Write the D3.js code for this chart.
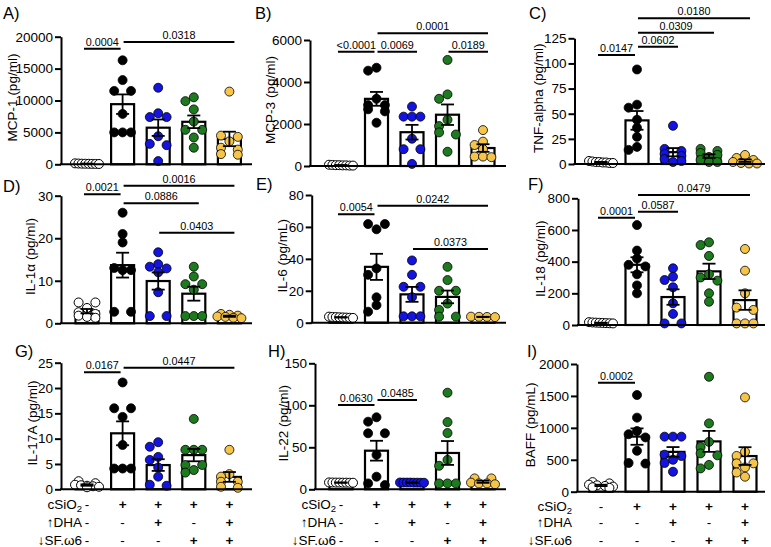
<!DOCTYPE html>
<html><head><meta charset="utf-8">
<script src="https://cdn.jsdelivr.net/npm/d3@7"></script>
<style>
body{margin:0;background:#fff}
svg{display:block}
text{font-family:"Liberation Sans",Arial,sans-serif;fill:#000}
</style>
</head><body>
<svg id="c" width="771" height="547"></svg>
<script>
// ---------- DATA ----------
const groupColors = ["#ffffff", "#000000", "#1414e0", "#1e7a1e", "#f5c449"];
const panelIds = ["A)", "B)", "C)", "D)", "E)", "F)", "G)", "H)", "I)"];
const yLabels = ["MCP-1 (pg/ml)", "MCP-3 (pg/ml)", "TNF-alpha (pg/ml)", "IL-1α (pg/ml)", "IL-6 (pg/mL)",
                 "IL-18 (pg/ml)", "IL-17A (pg/ml)", "IL-22 (pg/ml)", "BAFF (pg/mL)"];

const mcp1 = [
  [150, 120, 100, 90, 80, 70, 60, 50],
  [16300, 13200, 11500, 11500, 7900, 5000, 5000, 5000],
  [12000, 8000, 7400, 7400, 4400, 3200, 3000, 500],
  [10500, 9900, 8600, 6700, 5400, 5400, 4200, 2600],
  [11400, 4500, 4300, 3600, 2600, 2300, 1600, 1500]
];
const mcp3 = [
  [60, 50, 40, 40, 30, 30, 20, 20],
  [4680, 4540, 3200, 2900, 2900, 2700, 2600, 2060],
  [2830, 2350, 2350, 2350, 1300, 800, 800, 100],
  [5050, 3410, 3200, 2200, 1900, 1600, 1500, 680],
  [1710, 1160, 1000, 800, 450, 450, 420]
];
const tnfa = [
  [3, 2.5, 2, 2, 1.5, 1.5, 1, 1],
  [94, 59, 56, 44, 36, 27, 17, 14],
  [38, 15, 13, 10, 8, 5, 3, 2],
  [15, 13, 11, 9, 7, 4, 2, 2],
  [9, 6, 4, 2, 1, 0.5, 0.5]
];
const il1a = [
  [4.9, 4.9, 3.6, 2.6, 2.2, 1.8, 1.5, 1.3],
  [26, 21, 19, 13, 12.5, 12.5, 2.7, 2.7],
  [16.7, 13.9, 13.3, 12.9, 12, 7.3, 1.7, 1.7],
  [13.3, 11, 9.2, 9.2, 7.9, 1.7, 1.7, 1.7],
  [2.2, 2.0, 1.8, 1.6, 1.5, 1.3, 1.2]
];
const il6 = [
  [3.8, 3.6, 3.5, 3.4, 3.3, 3.2, 3.1, 3.0],
  [61.8, 61.8, 58.5, 34, 30, 15.9, 11, 6.9],
  [39, 30, 22.5, 22.5, 16, 4, 4, 4],
  [35, 26.7, 20, 20, 12, 8, 3.8, 3.8],
  [3.8, 3.7, 3.6, 3.5]
];
const il18 = [
  [18, 16, 15, 14, 13, 12, 11, 10],
  [631, 470, 420, 380, 370, 320, 250, 200],
  [358, 305, 284, 238, 137, 70, 10, 10],
  [522, 505, 436, 320, 300, 280, 200, 147],
  [480, 343, 200, 110, 95, 10, 10, 10]
];
const il17a = [
  [1.6, 1.2, 0.9, 0.8, 0.7, 0.6, 0.5, 0.4],
  [21.1, 16, 16, 14.3, 8.75, 4.1, 4.1, 4.1],
  [9.3, 8.4, 6.4, 5.8, 4.3, 2.5, 0.9, 0.7],
  [13.9, 7.8, 7.8, 7.8, 4.8, 4.8, 3.8, 3.3],
  [7.8, 3, 2.5, 1.5, 1.5, 0.5, 0.3]
];
const il22 = [
  [8.2, 8.1, 8, 8, 7.9, 7.9, 7.8, 7.8],
  [85.7, 80.5, 66.7, 66.7, 41, 15, 7, 5],
  [8.1, 8, 8, 8, 7.9, 7.9, 7.8, 7.8],
  [115, 80, 67, 35, 28, 7, 7, 7],
  [13, 13, 8, 7, 7, 6]
];
const baff = [
  [150, 130, 110, 100, 90, 80, 70, 60],
  [1514, 1160, 950, 900, 850, 640, 450, 440],
  [862, 862, 862, 580, 560, 500, 450, 313],
  [1800, 1070, 780, 700, 600, 570, 420, 365],
  [1477, 626, 560, 444, 444, 380, 300, 235]
];
const panelData = [mcp1, mcp3, tnfa, il1a, il6, il18, il17a, il22, baff];

const ticksA = [0, 5000, 10000, 15000, 20000];
const ticksB = [0, 2000, 4000, 6000];
const ticksC = [0, 25, 50, 75, 100, 125];
const ticksD = [0, 10, 20, 30];
const ticksE = [0, 20, 40, 60, 80];
const ticksF = [0, 200, 400, 600, 800];
const ticksG = [0, 5, 10, 15, 20, 25];
const ticksH = [0, 50, 100, 150];
const ticksI = [0, 500, 1000, 1500, 2000];
const panelTicks = [ticksA, ticksB, ticksC, ticksD, ticksE, ticksF, ticksG, ticksH, ticksI];

// significance brackets: [fromGroup, toGroup, level (data units), label]
const bracketsA = [[0, 1, 18100, "0.0004"], [1, 4, 19170, "0.0318"]];
const bracketsB = [[0, 1, 5443, "<0.0001"], [1, 2, 5443, "0.0069"], [3, 4, 5443, "0.0189"], [1, 4, 6319, "0.0001"]];
const bracketsC = [[0, 1, 108.4, "0.0147"], [1, 2, 116.6, "0.0602"], [1, 3, 130.6, "0.0309"], [1, 4, 144.9, "0.0180"]];
const bracketsD = [[0, 1, 30.33, "0.0021"], [1, 4, 32.35, "0.0016"], [1, 3, 28.2, "0.0886"], [2, 4, 21.3, "0.0403"]];
const bracketsE = [[0, 1, 67.9, "0.0054"], [1, 4, 73.3, "0.0242"], [2, 4, 46.2, "0.0373"]];
const bracketsF = [[0, 1, 677, "0.0001"], [1, 2, 715, "0.0587"], [1, 4, 821, "0.0479"]];
const bracketsG = [[0, 1, 23.1, "0.0167"], [1, 4, 24.0, "0.0447"]];
const bracketsH = [[0, 1, 100.4, "0.0630"], [1, 2, 106.3, "0.0485"]];
const bracketsI = [[0, 1, 1707, "0.0002"]];
const panelBrackets = [bracketsA, bracketsB, bracketsC, bracketsD, bracketsE, bracketsF, bracketsG, bracketsH, bracketsI];

const treatmentNames = ["cSiO", "↑DHA", "↓SF.ω6"];
const treatmentSigns = [
  ["-", "+", "+", "+", "+"],
  ["-", "-", "+", "-", "+"],
  ["-", "-", "-", "+", "+"]
];

// ---------- LAYOUT ----------
const axisXs = [61, 310, 574.5, 61, 311.7, 578, 61, 315, 577];
const zeroYs = [164.3, 166, 164, 323.3, 322.7, 325, 489.3, 489.3, 491.7];
const topYs = [36.7, 40, 38.3, 195.7, 195, 198.3, 362.7, 363.3, 364];
const firstCenters = [87, 341, 601];
const steps = [35.6, 35.5, 36];
const xEnds = [252, 506, 765];
const ylabOffsets = [49, 40, 36.5, 31, 29, 38, 29, 32, 47];
const letterPos = [[3, 19], [255, 19], [529, 19], [3, 192], [256, 190], [528, 190], [15, 357], [268, 357], [527, 357]];
const treatEnd = [82, 336, 572];
const treatBase = [509, 527, 544.5];
const treatFirstShift = [0, 0, 2.4];

const svg = d3.select("#c");
const FONT = 13.5;
const R = 4.5;

function layoutPoints(vals, y, cx) {
  const d = 8.4, maxSpan = 24;
  const pts = vals.map(v => ({ v, py: y(v) })).sort((a, b) => a.py - b.py);
  const rows = [];
  pts.forEach(p => {
    const last = rows[rows.length - 1];
    if (last && Math.abs(p.py - last[0].py) < 2.5) last.push(p); else rows.push([p]);
  });
  const placed = [];
  rows.forEach(row => {
    const n = row.length;
    let offs;
    if (n === 1) {
      const cands = [0, -d, d, -2 * d, 2 * d];
      let best = 0;
      for (const o of cands) {
        if (placed.every(q => Math.hypot(q.px - (cx + o), q.py - row[0].py) >= 1.6 * R)) { best = o; break; }
      }
      offs = [best];
    } else if (n === 2) {
      offs = [-d, d];
    } else {
      const sp = Math.min(d, maxSpan / (n - 1));
      offs = d3.range(n).map(i => (i - (n - 1) / 2) * sp);
    }
    row.forEach((p, i) => { p.px = cx + offs[i]; placed.push(p); });
  });
  return placed;
}

panelData.forEach((data, pi) => {
  const col = pi % 3, row = Math.floor(pi / 3);
  const ticks = panelTicks[pi];
  const ax = axisXs[pi];
  const y = d3.scaleLinear().domain([0, d3.max(ticks)]).range([zeroYs[pi], topYs[pi]]);
  const x = d3.scalePoint().domain(d3.range(5)).range([firstCenters[col], firstCenters[col] + 4 * steps[col]]);
  const g = svg.append("g");

  // bars (mean of the points)
  const stats = data.map(v => ({ mean: d3.mean(v), sem: d3.deviation(v) / Math.sqrt(v.length) }));
  const bw = 23;
  g.selectAll("rect.bar").data(stats).join("rect")
    .attr("x", (d, i) => x(i) - bw / 2).attr("width", bw)
    .attr("y", d => y(d.mean)).attr("height", d => y(0) - y(d.mean))
    .attr("fill", "#fff").attr("stroke", "#000").attr("stroke-width", 2.2);

  // points
  data.forEach((vals, gi) => {
    const pts = layoutPoints(vals, y, x(gi));
    g.selectAll(null).data(pts).join("circle")
      .attr("cx", d => d.px).attr("cy", d => d.py).attr("r", R)
      .attr("fill", groupColors[gi]).attr("stroke", "#000").attr("stroke-width", gi === 0 ? 1 : 0.8);
  });

  // error bars (mean ± SEM)
  stats.forEach((s, i) => {
    const cx = x(i), cap = 6.5;
    const lo = y(Math.max(0, s.mean - s.sem)), hi = y(s.mean + s.sem);
    const eg = g.append("g").attr("stroke", "#000").attr("stroke-width", 1.8);
    eg.append("line").attr("x1", cx).attr("x2", cx).attr("y1", hi).attr("y2", lo);
    eg.append("line").attr("x1", cx - cap).attr("x2", cx + cap).attr("y1", hi).attr("y2", hi);
    eg.append("line").attr("x1", cx - cap).attr("x2", cx + cap).attr("y1", lo).attr("y2", lo);
  });

  // y axis
  const axG = g.append("g").attr("transform", `translate(${ax},0)`)
    .call(d3.axisLeft(y).tickValues(ticks).tickFormat(d3.format("d")).tickSize(6).tickSizeOuter(0).tickPadding(2));
  axG.attr("font-family", null).attr("font-size", FONT);
  axG.select(".domain").attr("stroke-width", 2);
  axG.selectAll(".tick line").attr("stroke-width", 2);
  axG.selectAll(".tick text").attr("font-size", FONT).attr("fill", "#000");

  // x axis line
  g.append("line").attr("x1", ax - 1).attr("x2", xEnds[col]).attr("y1", y(0)).attr("y2", y(0))
    .attr("stroke", "#000").attr("stroke-width", 2);

  // y label
  const midY = (zeroYs[pi] + topYs[pi]) / 2 - 3;
  g.append("text").attr("transform", `translate(${ax - ylabOffsets[pi]},${midY}) rotate(-90)`)
    .attr("text-anchor", "middle").attr("dy", "0.35em").attr("font-size", FONT).text(yLabels[pi]);

  // panel letter
  g.append("text").attr("x", letterPos[pi][0]).attr("y", letterPos[pi][1]).attr("font-size", 16.5).text(panelIds[pi]);

  // brackets
  panelBrackets[pi].forEach(([a, b, lvl, lab]) => {
    const x1 = a === 0 ? x(a) - 3 : x(a) + 1;
    const x2 = a === 0 ? x(b) - 2 : x(b) + 5;
    const ly = y(lvl);
    g.append("line").attr("x1", x1).attr("x2", x2).attr("y1", ly).attr("y2", ly)
      .attr("stroke", "#000").attr("stroke-width", 2);
    g.append("text").attr("x", (x1 + x2) / 2).attr("y", ly - 3).attr("text-anchor", "middle")
      .attr("font-size", 10.8).text(lab);
  });

  // treatment table under bottom row
  if (row === 2) {
    treatmentNames.forEach((nm, ti) => {
      const by = treatBase[ti] + (ti === 0 ? treatFirstShift[col] : 0);
      const t = g.append("text").attr("x", treatEnd[col]).attr("y", by)
        .attr("text-anchor", "end").attr("font-size", FONT);
      t.append("tspan").text(nm);
      if (ti === 0) t.append("tspan").attr("font-size", 9.5).attr("dy", 3).text("2");
      treatmentSigns[ti].forEach((sg, gi) => {
        g.append("text").attr("x", x(gi)).attr("y", by).attr("text-anchor", "middle")
          .attr("font-size", FONT).attr("font-weight", sg === "+" ? "bold" : "normal").text(sg);
      });
    });
  }
});
</script>
</body></html>
